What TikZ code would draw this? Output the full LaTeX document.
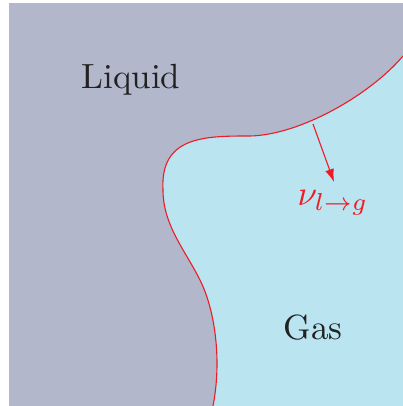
\documentclass[tikz,border=0pt]{standalone}
\usetikzlibrary{arrows.meta}
\definecolor{liqcol}{RGB}{178,183,203}
\definecolor{gascol}{RGB}{185,228,240}
\definecolor{ifacecol}{RGB}{237,28,36}
\definecolor{txtcol}{RGB}{34,34,34}
\tikzset{
  iface/.style={draw=ifacecol, line width=1.1pt},
  lbl/.style={text=txtcol, font=\normalsize, inner sep=0pt, scale=3.5},
  fluxarrow/.style={draw=ifacecol, line width=1.1pt, -{Latex[length=13pt,width=9pt]}},
}
\begin{document}
\begin{tikzpicture}[x=1pt,y=-1pt]
\useasboundingbox (0,0) rectangle (403,406);
% liquid background
\fill[liqcol] (9,3) rectangle (403,406);
% interface
\def\ifacepath{(403,56) .. controls (370,95) and (300,135) .. (250,136)
  .. controls (205,136) and (160,136) .. (163,190)
  .. controls (163,225) and (185,250) .. (200,280)
  .. controls (215,310) and (222,360) .. (213,406)}
\fill[gascol] \ifacepath -- (403,406) -- cycle;
\draw[iface] \ifacepath;
% arrow
\coordinate (src) at (313,124);
\coordinate (tip) at (334,182);
\draw[fluxarrow] (src) -- (tip);
% labels
\node[lbl] (liquid) at (131,80) {Liquid};
\node[lbl] (gas) at (313,328) {Gas};
\node[lbl, text=ifacecol, anchor=base west] (nu) at (297,205) {$\nu_{l\to g}$};
\end{tikzpicture}
\end{document}
